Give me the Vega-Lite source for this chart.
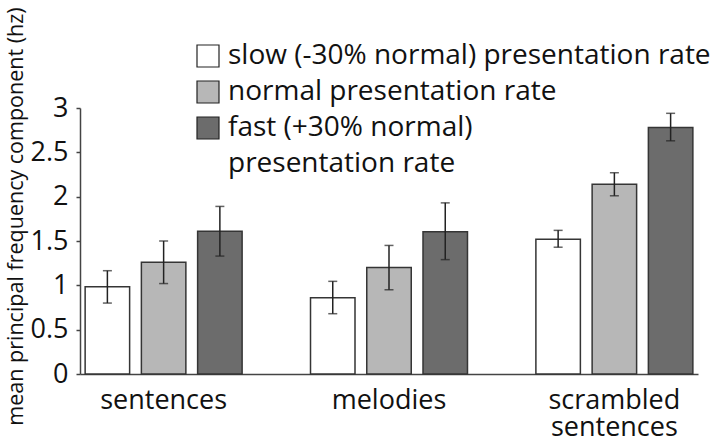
{
  "$schema": "https://vega.github.io/schema/vega-lite/v6.json",
  "width": 618,
  "height": 266,
  "autosize": {"type": "none"},
  "padding": {"left": 80, "top": 108, "right": 22, "bottom": 72},
  "background": "white",
  "config": {
    "view": {"stroke": null},
    "font": "Open Sans",
    "style": {"guide-label": {"lineHeight": 36}},
    "axis": {"labelFont": "Open Sans", "titleFont": "Open Sans", "labelColor": "#111", "titleColor": "#111"}
  },
  "data": {
    "values": [
      {"stimulus": "sentences", "rate": "slow (-30% normal) presentation rate", "mean": 0.985, "lo": 0.80, "hi": 1.165},
      {"stimulus": "sentences", "rate": "normal presentation rate", "mean": 1.26, "lo": 1.02, "hi": 1.50},
      {"stimulus": "sentences", "rate": "fast (+30% normal) presentation rate", "mean": 1.61, "lo": 1.33, "hi": 1.89},
      {"stimulus": "melodies", "rate": "slow (-30% normal) presentation rate", "mean": 0.86, "lo": 0.68, "hi": 1.045},
      {"stimulus": "melodies", "rate": "normal presentation rate", "mean": 1.20, "lo": 0.95, "hi": 1.45},
      {"stimulus": "melodies", "rate": "fast (+30% normal) presentation rate", "mean": 1.605, "lo": 1.29, "hi": 1.93},
      {"stimulus": "scrambled sentences", "rate": "slow (-30% normal) presentation rate", "mean": 1.52, "lo": 1.43, "hi": 1.62},
      {"stimulus": "scrambled sentences", "rate": "normal presentation rate", "mean": 2.14, "lo": 2.01, "hi": 2.27},
      {"stimulus": "scrambled sentences", "rate": "fast (+30% normal) presentation rate", "mean": 2.78, "lo": 2.63, "hi": 2.94}
    ]
  },
  "encoding": {
    "x": {
      "field": "stimulus",
      "type": "nominal",
      "sort": ["sentences", "melodies", "scrambled sentences"],
      "scale": {"paddingInner": 0.3035, "paddingOuter": 0.0228},
      "axis": {
        "title": null,
        "labelAngle": 0,
        "ticks": false,
        "domainColor": "#444",
        "domainWidth": 1.5,
        "labelFontSize": 27,
        "labelPadding": 13,
        "labelLineHeight": 27,
        "labelBaseline": "top",
        "labelExpr": "datum.label == 'scrambled sentences' ? ['scrambled', 'sentences'] : datum.label"
      }
    },
    "xOffset": {
      "field": "rate",
      "type": "nominal",
      "sort": ["slow (-30% normal) presentation rate", "normal presentation rate", "fast (+30% normal) presentation rate"],
      "scale": {"paddingInner": 0.209, "paddingOuter": 0}
    }
  },
  "layer": [
    {
      "mark": {"type": "bar", "stroke": "#353535", "strokeWidth": 1.5},
      "encoding": {
        "y": {
          "field": "mean",
          "type": "quantitative",
          "scale": {"domain": [0, 3], "nice": false},
          "axis": {
            "values": [0, 0.5, 1, 1.5, 2, 2.5, 3],
            "format": "~g",
            "grid": false,
            "domainColor": "#444",
            "domainWidth": 1.5,
            "tickColor": "#444",
            "tickWidth": 1.5,
            "tickSize": 4,
            "labelFontSize": 27,
            "labelPadding": 8,
            "title": "mean principal frequency component (hz)",
            "titleFontSize": 21.5,
            "titleFontWeight": "normal",
            "titleAngle": -90,
            "titleX": -64,
            "titleY": 108,
            "titleAlign": "center",
            "titleBaseline": "middle"
          }
        },
        "fill": {
          "field": "rate",
          "type": "nominal",
          "sort": ["slow (-30% normal) presentation rate", "normal presentation rate", "fast (+30% normal) presentation rate"],
          "scale": {
            "domain": ["slow (-30% normal) presentation rate", "normal presentation rate", "fast (+30% normal) presentation rate"],
            "range": ["#ffffff", "#b7b7b7", "#6c6c6c"]
          },
          "legend": {
            "title": null,
            "orient": "none",
            "legendX": 114,
            "legendY": -66,
            "padding": 0,
            "symbolType": "square",
            "symbolSize": 484,
            "symbolStrokeColor": "#222",
            "symbolStrokeWidth": 1.2,
            "labelFontSize": 28,
            "labelFont": "Open Sans",
            "labelColor": "#111",
            "labelLimit": 700,
            "labelOffset": 6,
            "rowPadding": 8,
            "labelExpr": "datum.label == 'fast (+30% normal) presentation rate' ? ['fast (+30% normal)', 'presentation rate'] : datum.label"
          }
        }
      }
    },
    {
      "mark": {"type": "rule", "color": "#222", "strokeWidth": 1.5},
      "encoding": {
        "y": {"field": "lo", "type": "quantitative"},
        "y2": {"field": "hi"}
      }
    },
    {
      "mark": {"type": "tick", "color": "#222", "thickness": 1.5, "size": 9},
      "encoding": {
        "y": {"field": "lo", "type": "quantitative"}
      }
    },
    {
      "mark": {"type": "tick", "color": "#222", "thickness": 1.5, "size": 9},
      "encoding": {
        "y": {"field": "hi", "type": "quantitative"}
      }
    }
  ]
}
